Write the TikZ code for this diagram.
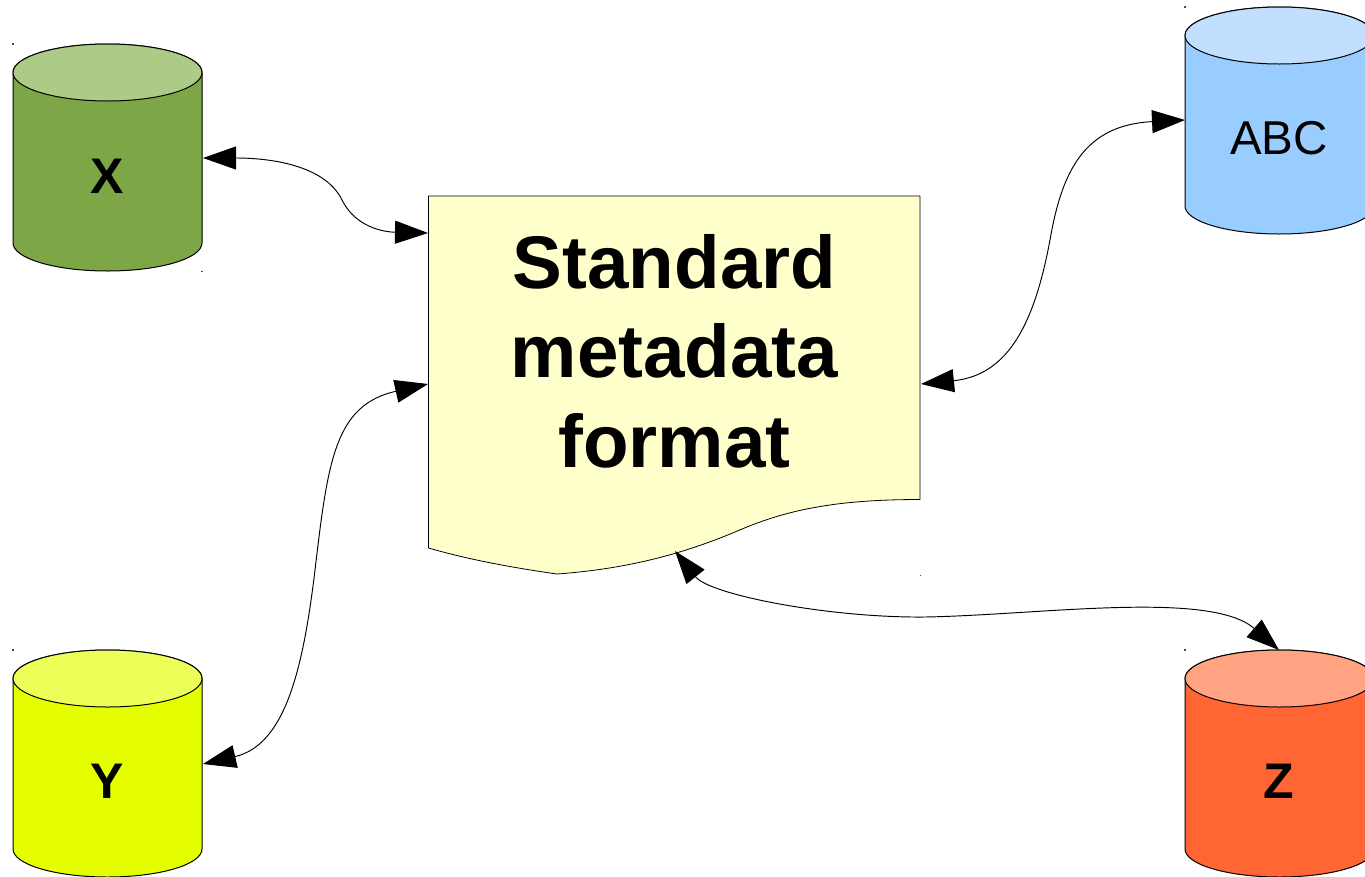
\documentclass[tikz,border=0pt]{standalone}
\usepackage{fontspec}
\setmainfont{Liberation Sans}
\usetikzlibrary{arrows.meta}
\definecolor{xbody}{HTML}{7DA647}\definecolor{xtop}{HTML}{ACCB86}
\definecolor{ybody}{HTML}{E6FF00}\definecolor{ytop}{HTML}{ECFF59}
\definecolor{abody}{HTML}{99CCFF}\definecolor{atop}{HTML}{C2DFFF}
\definecolor{zbody}{HTML}{FF6633}\definecolor{ztop}{HTML}{FFA382}
\definecolor{docfill}{HTML}{FFFFCC}
\tikzset{
  shapeline/.style={draw=black,line width=1pt,line join=round},
  link/.style={draw=black,line width=0.95pt,{Triangle[length=33pt,width=23pt]}-{Triangle[length=33pt,width=23pt]}},
  dblabel/.style={inner sep=0pt},
  speck/.style={fill=black!70},
}
% #1 left x, #2 top y, #3 body colour, #4 lid colour
\newcommand{\drum}[4]{%
  \path[shapeline,fill=#3] (#1,#2+28.5) -- (#1,#2+199)
    arc[start angle=180,end angle=0,x radius=94.5,y radius=28]
    -- (#1+189,#2+28.5) arc[start angle=0,end angle=-180,x radius=94.5,y radius=28.5] -- cycle;
  \path[shapeline,fill=#4] (#1+94.5,#2+28.5) ellipse[x radius=94.5,y radius=28.5];
  \fill[speck] (#1-0.6,#2-0.6) rectangle (#1+0.6,#2+0.6);
}
\begin{document}
\begin{tikzpicture}[x=1pt,y=-1pt]
\clip (0,0) rectangle (1365,876);
\fill[white] (0,0) rectangle (1365,876);
\drum{13}{44}{xbody}{xtop}
\drum{13}{650}{ybody}{ytop}
\drum{1185}{7}{abody}{atop}
\drum{1185}{650}{zbody}{ztop}
\fill[speck] (201.4,270.9) rectangle (202.6,272.1);
\fill[speck] (919.6,574.6) rectangle (920.4,575.4);
\path[shapeline,line width=0.8pt,fill=docfill] (428.5,196) -- (920,196) -- (920,499.5)
  .. controls (835,499.5) and (785,510) .. (735,532)
  .. controls (680,555) and (625,569) .. (557,574)
  .. controls (515,568) and (470,560) .. (428.5,548) -- cycle;
\node[inner sep=0pt,align=center,font=\fontsize{74.6}{89.5}\selectfont\bfseries] (doc) at (674.5,351) {Standard\\metadata\\format};
\node[dblabel,font=\fontsize{50}{50}\selectfont\bfseries] (x) at (107,176) {X};
\node[dblabel,font=\fontsize{50}{50}\selectfont\bfseries] (y) at (107,781) {Y};
\node[dblabel,font=\fontsize{47.5}{50}\selectfont] (abc) at (1279,138) {ABC};
\node[dblabel,font=\fontsize{50}{50}\selectfont\bfseries] (z) at (1279,781) {Z};
\coordinate (xE) at (203,158);
\coordinate (yE) at (203,764);
\coordinate (aW) at (1185,120);
\coordinate (zN) at (1279,650);
\coordinate (dX) at (428,233);
\coordinate (dY) at (428,384);
\coordinate (dA) at (921,384);
\coordinate (dZ) at (675,551);
\draw[link] (xE) .. controls (270,158) and (325,165) .. (342,200) .. controls (356,228) and (385,232) .. (dX);
\draw[link] (yE) .. controls (285,745) and (303,670) .. (315,570) .. controls (328,460) and (335,405) .. (dY);
\draw[link] (dA) .. controls (1010,375) and (1035,320) .. (1050,240) .. controls (1062,170) and (1085,125) .. (aW);
\draw[link] (dZ) .. controls (710,595) and (830,618) .. (925,617) .. controls (1040,615) and (1210,590) .. (zN);
\end{tikzpicture}
\end{document}
